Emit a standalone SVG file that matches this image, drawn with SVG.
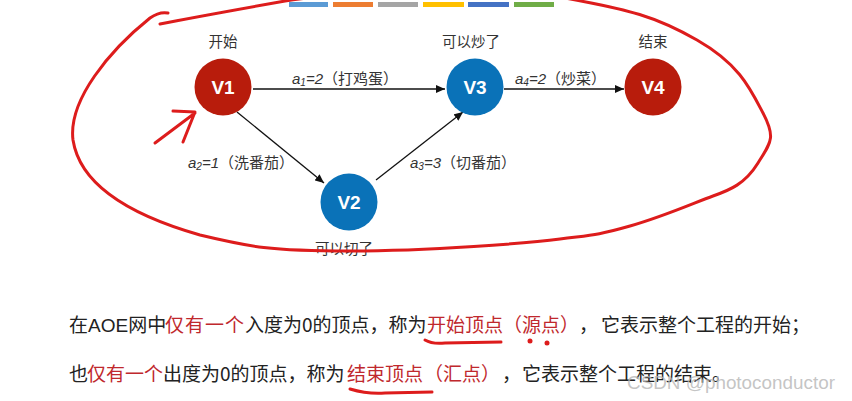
<svg xmlns="http://www.w3.org/2000/svg" width="852" height="401" viewBox="0 0 852 401">
<style>
.cap{font-family:"Noto Sans CJK SC","Liberation Sans",sans-serif;font-size:14.5px;fill:#333;text-anchor:middle}
.vt{font-family:"Liberation Sans","Noto Sans",sans-serif;font-size:19px;font-weight:bold;fill:#fff;text-anchor:middle}
.el{font-family:"Liberation Sans","Noto Sans CJK SC",sans-serif;font-size:15px;fill:#333}
.it{font-style:italic}
.cj{font-family:"Noto Sans CJK SC",sans-serif}
.lat{font-family:"Liberation Sans",sans-serif}
.edge{stroke:#111;stroke-width:1.3;fill:none}
.body{font-family:"Noto Sans CJK SC","Liberation Sans",sans-serif;font-size:19px;fill:#222}
.hl{fill:#c0282d}
.ink{stroke:#dd1c1c;stroke-width:3;fill:none;stroke-linecap:round;stroke-linejoin:round}
.red{fill:#b81c0c}
.blue{fill:#0a72b8}
</style>
<defs>
<marker id="arr" markerWidth="9" markerHeight="8" refX="9" refY="4" orient="auto" markerUnits="userSpaceOnUse">
<path d="M0,0 L9,4 L0,8 Z" fill="#111"/>
</marker>
</defs>
<rect width="852" height="401" fill="#fff"/>
<g id="palette">
<rect x="289" y="2" width="39" height="5" fill="#5b9bd5"/>
<rect x="333" y="2" width="40" height="5" fill="#ed7d31"/>
<rect x="378" y="2" width="40" height="5" fill="#a5a5a5"/>
<rect x="423" y="2" width="41" height="5" fill="#ffc000"/>
<rect x="468" y="2" width="41" height="5" fill="#4472c4"/>
<rect x="514" y="2" width="40" height="5" fill="#70ad47"/>
</g>
<g id="connectors">
<line class="edge" x1="253" y1="89" x2="445" y2="89" marker-end="url(#arr)"/>
<line class="edge" x1="504" y1="89" x2="624" y2="89" marker-end="url(#arr)"/>
<line class="edge" x1="237" y1="112" x2="324" y2="183" marker-end="url(#arr)"/>
<line class="edge" x1="376" y1="180" x2="463" y2="112" marker-end="url(#arr)"/>
<text class="el" x="292" y="84"><tspan class="it">a</tspan><tspan class="it" font-size="10" dy="2">1</tspan><tspan class="it" dy="-2">=2</tspan><tspan class="cj">（打鸡蛋）</tspan></text>
<text class="el" x="515" y="84"><tspan class="it">a</tspan><tspan class="it" font-size="10" dy="2">4</tspan><tspan class="it" dy="-2">=2</tspan><tspan class="cj">（炒菜）</tspan></text>
<text class="el" x="188" y="168"><tspan class="it">a</tspan><tspan class="it" font-size="10" dy="2">2</tspan><tspan class="it" dy="-2">=1</tspan><tspan class="cj">（洗番茄）</tspan></text>
<text class="el" x="410" y="168"><tspan class="it">a</tspan><tspan class="it" font-size="10" dy="2">3</tspan><tspan class="it" dy="-2">=3</tspan><tspan class="cj">（切番茄）</tspan></text>
</g>
<g id="V1">
<circle class="red" cx="223" cy="87" r="28.5"/>
<text class="vt" x="223" y="94">V1</text>
<text class="cap" x="223" y="47">开始</text>
</g>
<g id="V3">
<circle class="blue" cx="475" cy="87" r="28.5"/>
<text class="vt" x="475" y="94">V3</text>
<text class="cap" x="471" y="47">可以炒了</text>
</g>
<g id="V4">
<circle class="red" cx="653" cy="87" r="28.5"/>
<text class="vt" x="653" y="94">V4</text>
<text class="cap" x="653" y="47">结束</text>
</g>
<g id="V2">
<circle class="blue" cx="349" cy="202" r="28.5"/>
<text class="vt" x="349" y="209">V2</text>
<text class="cap" x="344" y="254">可以切了</text>
</g>
<g id="text">
<text class="body" y="332"><tspan x="69">在</tspan><tspan class="lat">AOE</tspan><tspan>网中</tspan><tspan class="hl" x="165" letter-spacing="1">仅有一个</tspan><tspan x="245">入度为0的顶点，称为</tspan><tspan class="hl" x="427">开始顶点</tspan><tspan class="hl" x="503">（源点）</tspan><tspan x="579">，</tspan><tspan x="601">它表示整个工程的开始；</tspan></text>
<text class="body" y="381"><tspan x="69">也</tspan><tspan class="hl" x="87">仅有一个</tspan><tspan x="163">出度为0的顶点，称为</tspan><tspan class="hl" x="347">结束顶点</tspan><tspan class="hl" x="424">（汇点）</tspan><tspan x="502">，</tspan><tspan x="522">它表示整个工程的结束。</tspan></text>
<text x="627" y="389" font-family="'Liberation Sans',sans-serif" font-size="19" fill="#b5b5b5" fill-opacity="0.8" textLength="208" lengthAdjust="spacingAndGlyphs">CSDN @photoconductor</text>
</g>
<g id="annotations">
<path class="ink" d="M160,24 C190,18 240,9 285,1 S500,-14 565,-2 S655,16 697,40 S750,88 763,113 S771,142 758,163 S730,190 713,196 S665,216 630,226 S590,235 560,239 S430,251 350,251 S250,247 200,235 C130,215 80,185 73,140 C68,100 110,50 150,18 C157,13 163,12 168,13"/>
<path class="ink" d="M155,143 L195,113 M173,111 L195,112 L183,142"/>
<path class="ink" stroke-width="2.5" d="M425,340 C430,343 436,344 445,343 L501,342"/>
<circle cx="530" cy="341" r="2.5" fill="#dd1c1c"/>
<circle cx="547" cy="343" r="2.5" fill="#dd1c1c"/>
<path class="ink" stroke-width="2.5" d="M350,389 C360,392 372,394 385,393 L432,392"/>
</g>
</svg>
